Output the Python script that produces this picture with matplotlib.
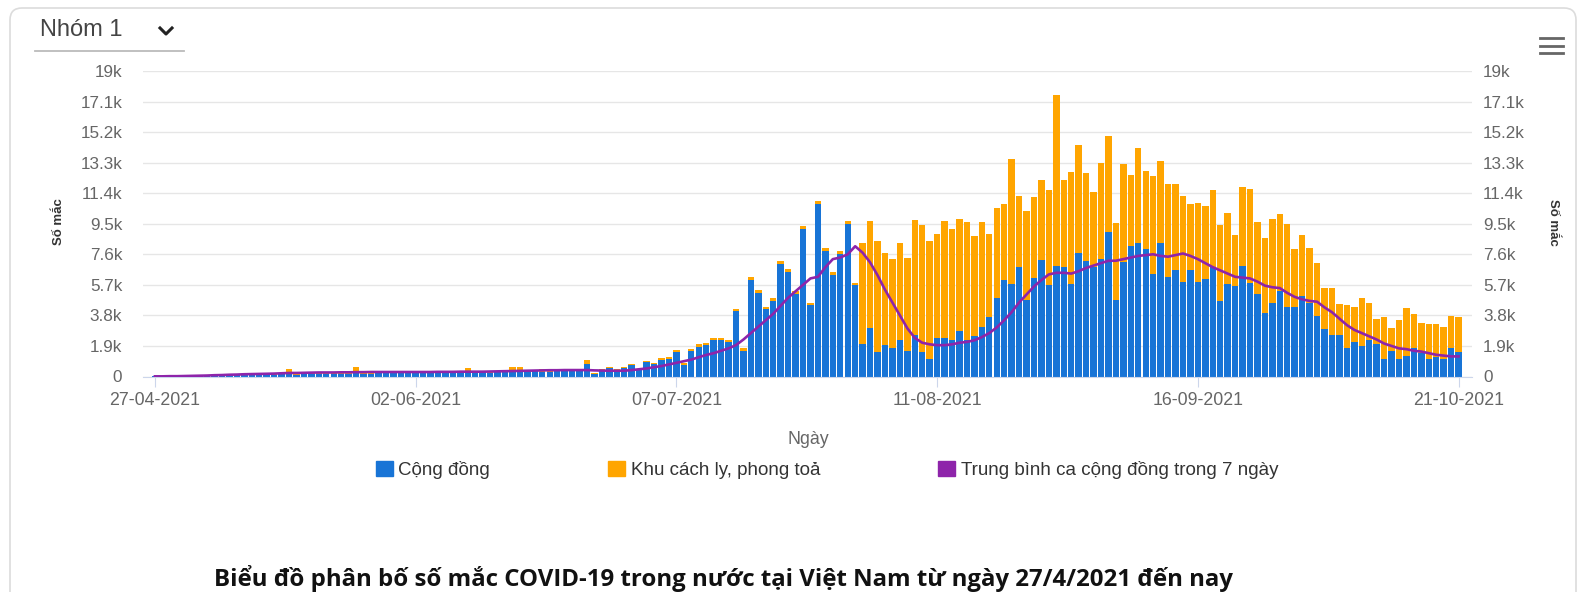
import matplotlib
matplotlib.use("Agg")
import matplotlib.pyplot as plt
from matplotlib.patches import FancyBboxPatch, Patch
from matplotlib.lines import Line2D
from matplotlib.transforms import IdentityTransform

# số ca theo ngày (27-04-2021 -> 21-10-2021)
cong_dong = [5, 2, 10, 15, 20, 25, 30, 35, 40, 60,
             70, 90, 100, 80, 110, 120, 100, 130, 150, 120,
             140, 150, 180, 160, 150, 170, 160, 200, 180, 170,
             200, 220, 210, 230, 200, 210, 190, 200, 210, 220,
             230, 220, 240, 230, 250, 240, 260, 280, 300, 310,
             300, 330, 310, 300, 320, 340, 330, 350, 800, 150,
             400, 500, 400, 530, 700, 400, 880, 780, 1050, 1100,
             1500, 700, 1600, 1850, 1950, 2250, 2250, 2150, 4050, 1600,
             6000, 5200, 4200, 4700, 7000, 6500, 5100, 9150, 4450, 10700,
             7800, 6300, 7600, 9500, 5700, 2050, 3000, 1550, 1960, 1750,
             2270, 1600, 2600, 1550, 1070, 2400, 2400, 2300, 2800, 2300,
             2500, 3100, 3700, 4900, 6000, 5750, 6800, 4750, 6100, 7250,
             5700, 6850, 6800, 5750, 7700, 7200, 6800, 7300, 9000, 4750,
             7100, 8100, 8300, 7900, 6400, 8300, 6200, 6600, 5900, 6600,
             5900, 6050, 6800, 4700, 5750, 5600, 6900, 5800, 5100, 3950,
             4600, 5300, 4350, 4300, 5000, 4600, 3750, 2950, 2600, 2600,
             1750, 2150, 1900, 2300, 2050, 1100, 1600, 1100, 1300, 1800,
             1450, 1100, 1200, 1100, 1750, 1550]

cach_ly = [2, 3, 5, 5, 8, 10, 10, 15, 20, 20,
           30, 40, 50, 40, 40, 60, 50, 60, 300, 50,
           50, 60, 100, 50, 40, 60, 50, 370, 60, 50,
           80, 120, 100, 90, 60, 50, 50, 60, 40, 50,
           50, 60, 260, 60, 50, 50, 60, 80, 300, 290,
           120, 100, 150, 120, 80, 60, 100, 80, 200, 80,
           50, 70, 50, 70, 80, 50, 100, 80, 120, 100,
           150, 120, 100, 150, 150, 150, 150, 150, 150, 150,
           200, 200, 150, 200, 200, 200, 200, 200, 150, 200,
           200, 200, 200, 200, 100, 6250, 6700, 6900, 5690, 5550,
           6030, 5750, 7150, 7850, 7380, 6450, 7300, 6900, 7000, 7300,
           6250, 6500, 5150, 5600, 4700, 7750, 4400, 5550, 5050, 4950,
           5900, 10650, 5400, 6950, 6700, 5450, 4650, 6000, 5950, 4800,
           6100, 4450, 5900, 4850, 6050, 5100, 5800, 5400, 5300, 4100,
           4900, 4550, 4800, 4700, 4400, 3200, 4900, 5850, 4500, 4650,
           5200, 4800, 5150, 3600, 3800, 3400, 3300, 2550, 2900, 1900,
           2700, 2200, 3000, 2300, 1550, 2600, 1400, 2400, 2950, 2100,
           1850, 2150, 2050, 1950, 2000, 2150]

tb_7_ngay = [10, 10, 20, 20, 30, 40, 50, 60, 80, 90,
             110, 120, 140, 150, 160, 170, 180, 200, 220, 220,
             230, 240, 250, 250, 250, 260, 260, 270, 270, 280,
             280, 280, 280, 280, 280, 280, 280, 280, 290, 290,
             290, 300, 300, 300, 300, 310, 320, 330, 340, 350,
             360, 370, 380, 390, 390, 400, 400, 400, 400, 380,
             370, 360, 360, 360, 400, 450, 500, 580, 650, 750,
             850, 950, 1050, 1200, 1340, 1450, 1600, 1750, 1950, 2300,
             2700, 3100, 3500, 3900, 4400, 4900, 5300, 5700, 6100, 6200,
             6800, 7300, 7400, 7600, 8100, 7700, 7100, 6300, 5400, 4600,
             3800, 3000, 2400, 2100, 2000, 1950, 1950, 2000, 2100, 2150,
             2250, 2450, 2700, 3050, 3500, 4000, 4600, 5100, 5600, 6000,
             6350, 6450, 6450, 6400, 6550, 6750, 6900, 7050, 7200, 7200,
             7300, 7400, 7500, 7550, 7600, 7500, 7450, 7550, 7650, 7500,
             7300, 7050, 6800, 6600, 6400, 6200, 6150, 6100, 5900, 5650,
             5550, 5500, 5200, 4950, 4800, 4700, 4650, 4300, 4000, 3600,
             3200, 2900, 2700, 2500, 2300, 2050, 1900, 1750, 1700, 1600,
             1550, 1450, 1350, 1300, 1250, 1250]

ngay_tick = [0, 35, 70, 105, 140, 175]
ngay_nhan = ['27-04-2021', '02-06-2021', '07-07-2021', '11-08-2021', '16-09-2021', '21-10-2021']
y_tick = [0, 1900, 3800, 5700, 7600, 9500, 11400, 13300, 15200, 17100, 19000]
y_nhan = ['0', '1.9k', '3.8k', '5.7k', '7.6k', '9.5k', '11.4k', '13.3k', '15.2k', '17.1k', '19k']

XANH = '#1874d6'
CAM = '#ffa500'
TIM = '#8e24aa'

W, H = 1583, 592
plt.rcParams['font.family'] = ['Liberation Sans', 'DejaVu Sans']

fig = plt.figure(figsize=(W / 100, H / 100), dpi=100)
fig.patch.set_facecolor('white')

# khung thẻ
khung = FancyBboxPatch((10, -30), 1566, H - 8 + 30, boxstyle='round,pad=0,rounding_size=12',
                       transform=IdentityTransform(), facecolor='none', edgecolor='#dcdcdc',
                       lw=1.2, zorder=-1)
fig.patches.append(khung)

ax = fig.add_axes([143 / W, 1 - 376.5 / H, (1472 - 143) / W, (376.5 - 71) / H])
x = list(range(len(cong_dong)))
ax.bar(x, cong_dong, width=0.86, color=XANH, zorder=2)
ax.bar(x, cach_ly, width=0.86, bottom=cong_dong, color=CAM, zorder=2)
ax.plot(x, tb_7_ngay, color=TIM, lw=1.9, zorder=3)

ax.set_xlim(-1.6, 176.8)
ax.set_ylim(0, 19000)
ax.set_yticks(y_tick)
ax.set_yticklabels(y_nhan)
ax.set_xticks(ngay_tick)
ax.set_xticklabels(ngay_nhan)
ax.grid(axis='y', color='#e6e6e6', lw=1, zorder=0)
ax.set_axisbelow(True)
for s in ['top', 'left', 'right']:
    ax.spines[s].set_visible(False)
ax.spines['bottom'].set_color('#ccd6eb')
ax.tick_params(axis='x', length=7, color='#ccd6eb', labelsize=12.8, labelcolor='#666666', pad=4)
ax.tick_params(axis='y', length=0, labelsize=12.3, labelcolor='#666666', pad=15)

ax2 = ax.secondary_yaxis('right')
ax2.set_yticks(y_tick)
ax2.set_yticklabels(y_nhan)
ax2.spines['right'].set_visible(False)
ax2.tick_params(length=0, labelsize=12.3, labelcolor='#666666', pad=8)

ax.set_xlabel('Ngày', fontsize=12.8, color='#666666')
ax.xaxis.set_label_coords(0.5004, -0.18)
fig.text(59 / W, 1 - 222 / H, 'Số mắc', rotation=90, fontsize=9.5, fontweight='bold',
         color='#333333', ha='center', va='center')
fig.text(1553 / W, 1 - 222 / H, 'Số mắc', rotation=270, fontsize=9.5, fontweight='bold',
         color='#333333', ha='center', va='center')

handles = [Patch(color=XANH), Patch(color=CAM), Patch(color=TIM)]
labels = ['Cộng đồng', 'Khu cách ly, phong toả', 'Trung bình ca cộng đồng trong 7 ngày']
fig.legend(handles, labels, loc='center', bbox_to_anchor=(827 / W, 1 - 470 / H), ncol=3,
           frameon=False, fontsize=13.5, handlelength=0.9, handleheight=0.9,
           handletextpad=0.3, columnspacing=6.3, labelcolor='#333333')

# chọn nhóm
fig.text(40 / W, 1 - 30 / H, 'Nhóm 1', fontsize=17, color='#444444', ha='left', va='center')
fig.add_artist(Line2D([160 / W, 166 / W, 172 / W], [1 - 28 / H, 1 - 34 / H, 1 - 28 / H],
                      color='#222222', lw=2.2))
fig.add_artist(Line2D([35 / W, 184 / W], [1 - 51 / H, 1 - 51 / H], color='#bbbbbb', lw=1.3))
for yy in [38, 45.5, 53]:
    fig.add_artist(Line2D([1540 / W, 1563 / W], [1 - yy / H, 1 - yy / H], color='#666666', lw=2))

fig.text(723 / W, 1 - 579 / H,
         'Biểu đồ phân bố số mắc COVID-19 trong nước tại Việt Nam từ ngày 27/4/2021 đến nay',
         fontsize=17.3, fontweight='bold', family=['Open Sans', 'DejaVu Sans'],
         color='#111111', ha='center', va='center')

fig.savefig('out.png', dpi=100)
